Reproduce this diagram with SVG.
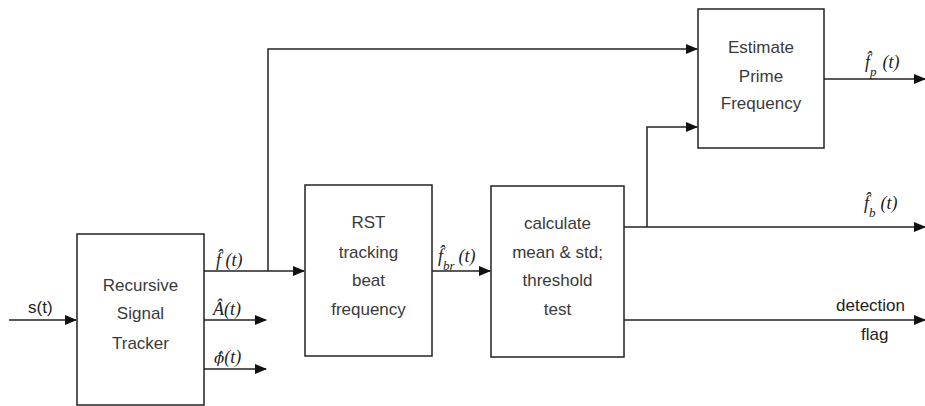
<svg xmlns="http://www.w3.org/2000/svg" width="925" height="406" viewBox="0 0 925 406">
<style>
.box{fill:#fff;stroke:#222;stroke-width:1.5}
.bt{font-family:"Liberation Sans",Arial,sans-serif;font-size:17px;fill:#3a3a3a;text-anchor:middle}
.ln{fill:none;stroke:#222;stroke-width:1.5}
.m{font-family:"Liberation Serif","Times New Roman",serif;font-style:italic;font-size:18px;fill:#222}
.s{font-size:13px}
.dj{font-family:"DejaVu Serif",serif;font-size:15px}
.lb{font-family:"Liberation Sans",Arial,sans-serif;font-size:17px;fill:#222}
</style>
<defs>
<marker id="ar" markerWidth="12" markerHeight="10" refX="11" refY="5" orient="auto" markerUnits="userSpaceOnUse">
<path d="M0,0 L12,5 L0,10 Z" fill="#111"/>
</marker>
</defs>
<g id="connectors">
<path class="ln" d="M9,320 H76" marker-end="url(#ar)"/>
<path class="ln" d="M204,271 H304" marker-end="url(#ar)"/>
<path class="ln" d="M268,271 V49 H697" marker-end="url(#ar)"/>
<path class="ln" d="M204,320 H266" marker-end="url(#ar)"/>
<path class="ln" d="M204,369 H266" marker-end="url(#ar)"/>
<path class="ln" d="M432,271 H490" marker-end="url(#ar)"/>
<path class="ln" d="M624,227 H925" marker-end="url(#ar)"/>
<path class="ln" d="M647,227 V127 H697" marker-end="url(#ar)"/>
<path class="ln" d="M624,320 H925" marker-end="url(#ar)"/>
<path class="ln" d="M824,79 H925" marker-end="url(#ar)"/>
</g>
<g id="rst-tracker">
<rect class="box" x="77" y="234" width="127" height="171"/>
<text class="bt" x="140.5" y="291">Recursive</text>
<text class="bt" x="140.5" y="319">Signal</text>
<text class="bt" x="140.5" y="349">Tracker</text>
</g>
<g id="rst-beat">
<rect class="box" x="305" y="185" width="127" height="171"/>
<text class="bt" x="368.5" y="228">RST</text>
<text class="bt" x="368.5" y="258">tracking</text>
<text class="bt" x="368.5" y="286">beat</text>
<text class="bt" x="368.5" y="315">frequency</text>
</g>
<g id="threshold">
<rect class="box" x="491" y="186" width="133" height="171"/>
<text class="bt" x="557.5" y="229">calculate</text>
<text class="bt" x="557.5" y="258">mean &amp; std;</text>
<text class="bt" x="557.5" y="286">threshold</text>
<text class="bt" x="557.5" y="315">test</text>
</g>
<g id="prime">
<rect class="box" x="698" y="9" width="126" height="139"/>
<text class="bt" x="761" y="53">Estimate</text>
<text class="bt" x="761" y="82">Prime</text>
<text class="bt" x="761" y="109">Frequency</text>
</g>
<g id="labels">
<text class="lb" x="28" y="313">s(t)</text>
<text class="m" x="216" y="266">f̂ (t)</text>
<text class="m" x="213" y="315">Â(t)</text>
<text class="m" x="214" y="363"><tspan class="dj">ϕ̂</tspan>(t)</text>
<text class="m" x="438" y="262">f̂<tspan class="s" dy="8">br</tspan><tspan dx="4" dy="-8">(t)</tspan></text>
<text class="m" x="864" y="209">f̂<tspan class="s" dy="8">b</tspan><tspan dx="5" dy="-8">(t)</tspan></text>
<text class="m" x="865" y="68">f̂<tspan class="s" dy="8">p</tspan><tspan dx="6" dy="-8">(t)</tspan></text>
<text class="lb" x="836" y="311">detection</text>
<text class="lb" x="861" y="340">flag</text>
</g>
</svg>
